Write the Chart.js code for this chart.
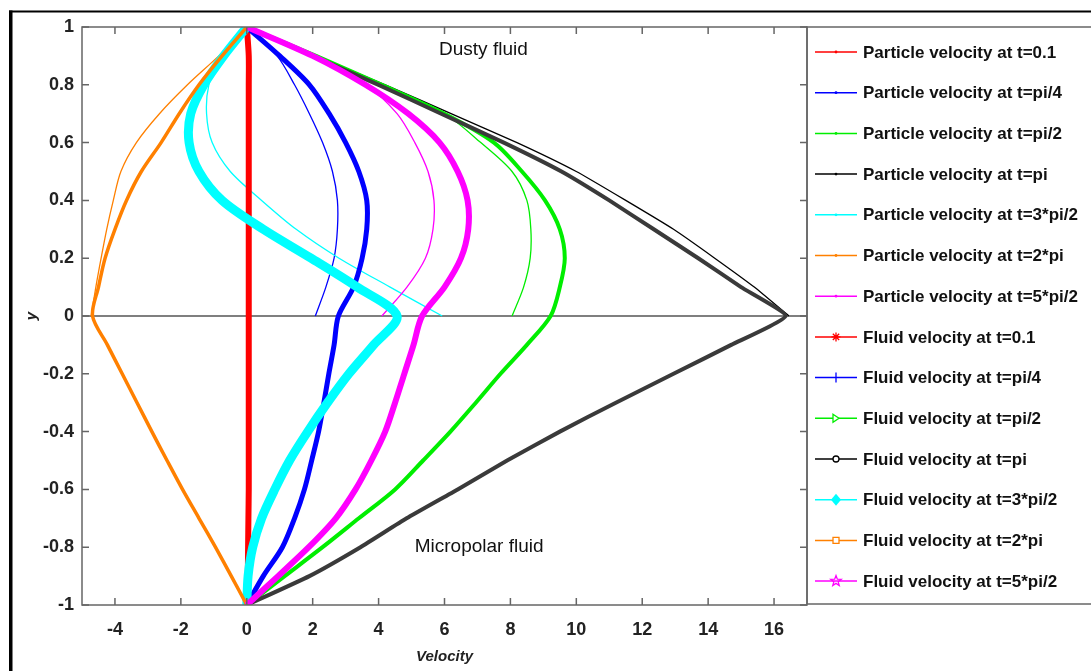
<!DOCTYPE html>
<html>
<head>
<meta charset="utf-8">
<script src="https://cdn.jsdelivr.net/npm/chart.js@4.4.1/dist/chart.umd.min.js"></script>
<style>
body { margin: 0; background: #fff; }
#wrap { position: relative; width: 1091px; height: 671px; }
</style>
</head>
<body>
<div id="wrap"><canvas id="chart" width="1091" height="671"></canvas></div>
<script>
// y levels where the profiles were read
let yUpper = [1, 0.9, 0.8, 0.7, 0.6, 0.5, 0.4, 0.3, 0.2, 0.1, 0];
let yFull = [1, 0.9, 0.8, 0.7, 0.6, 0.5, 0.4, 0.3, 0.2, 0.1, 0,
             -0.1, -0.2, -0.3, -0.4, -0.5, -0.6, -0.7, -0.8, -0.9, -1];

// particle velocity (upper half only)
let partT01   = [0, 0.05, 0.05, 0.05, 0.05, 0.05, 0.05, 0.05, 0.05, 0.05, 0.05];
let partPi4   = [0, 0.92, 1.45, 1.9, 2.3, 2.6, 2.75, 2.75, 2.65, 2.4, 2.08];
let partPi2   = [0, 2.0, 4.0, 6.0, 7.1, 8.05, 8.5, 8.62, 8.6, 8.4, 8.05];
let partPi    = [0, 2.1, 4.2, 6.2, 8.2, 10.0, 11.5, 12.95, 14.2, 15.4, 16.45];
let part3Pi2  = [0, -0.8, -1.15, -1.22, -1.05, -0.5, 0.45, 1.5, 2.8, 4.35, 5.93];
let part2Pi   = [0, -0.85, -1.8, -2.65, -3.35, -3.82, -4.05, -4.25, -4.42, -4.58, -4.72];
let part5Pi2  = [0, 1.9, 3.6, 4.56, 5.1, 5.5, 5.68, 5.65, 5.42, 4.86, 4.1];

// fluid velocity (whole channel)
let fluidT01  = [0, 0.06, 0.06, 0.06, 0.06, 0.06, 0.06, 0.06, 0.06, 0.06, 0.06,
                 0.06, 0.06, 0.06, 0.06, 0.06, 0.06, 0.05, 0.04, 0.03, 0];
let fluidPi4  = [0, 1.0, 1.9, 2.5, 3.0, 3.4, 3.64, 3.64, 3.5, 3.24, 2.78,
                 2.65, 2.49, 2.34, 2.18, 1.97, 1.75, 1.45, 1.08, 0.5, 0];
let fluidPi2  = [0, 2.1, 4.1, 6.0, 7.5, 8.35, 9.05, 9.5, 9.65, 9.5, 9.22,
                 8.5, 7.7, 6.95, 6.18, 5.35, 4.5, 3.4, 2.3, 1.15, 0];
let fluidPi   = [0, 2.0, 4.0, 5.9, 7.8, 9.55, 11.0, 12.35, 13.7, 15.0, 16.35,
                 14.7, 12.95, 11.2, 9.5, 7.9, 6.4, 4.85, 3.45, 1.9, 0];
let fluid3Pi2 = [0, -0.7, -1.3, -1.7, -1.75, -1.45, -0.75, 0.5, 1.95, 3.35, 4.56,
                 3.85, 3.1, 2.45, 1.85, 1.3, 0.85, 0.45, 0.18, 0.04, 0];
let fluid2Pi  = [0, -0.75, -1.45, -2.05, -2.6, -3.2, -3.65, -4.0, -4.3, -4.5, -4.68,
                 -4.23, -3.78, -3.33, -2.88, -2.42, -1.95, -1.45, -0.95, -0.47, 0];
let fluid5Pi2 = [0, 2.0, 3.6, 4.9, 5.85, 6.4, 6.7, 6.72, 6.5, 6.0, 5.32,
                 5.06, 4.78, 4.5, 4.2, 3.78, 3.3, 2.7, 1.88, 0.95, 0];

let xTicks = [-4, -2, 0, 2, 4, 6, 8, 10, 12, 14, 16];
let yTicks = [-1, -0.8, -0.6, -0.4, -0.2, 0, 0.2, 0.4, 0.6, 0.8, 1];

let noteText = ["Dusty fluid", "Micropolar fluid"];
let noteX = [7.18, 7.05];
let noteY = [0.92, -0.8];

let labels = [
  "Particle velocity at t=0.1", "Particle velocity at t=pi/4", "Particle velocity at t=pi/2",
  "Particle velocity at t=pi", "Particle velocity at t=3*pi/2", "Particle velocity at t=2*pi",
  "Particle velocity at t=5*pi/2",
  "Fluid velocity at t=0.1", "Fluid velocity at t=pi/4", "Fluid velocity at t=pi/2",
  "Fluid velocity at t=pi", "Fluid velocity at t=3*pi/2", "Fluid velocity at t=2*pi",
  "Fluid velocity at t=5*pi/2"
];
let colors = ["#ff0000", "#0000ff", "#00ee00", "#000000", "#00ffff", "#ff8000", "#ff00ff",
              "#ff0000", "#0000ff", "#00ee00", "#000000", "#00ffff", "#ff8000", "#ff00ff"];
let markers = ["dot", "dot", "dot", "dot", "dot", "dot", "dot",
               "asterisk", "plus", "triRight", "circle", "diamond", "square", "star"];

let series = [partT01, partPi4, partPi2, partPi, part3Pi2, part2Pi, part5Pi2,
              fluidT01, fluidPi4, fluidPi2, fluidPi, fluid3Pi2, fluid2Pi, fluid5Pi2];
// thickness of the dense marker bands of the fluid curves
let widths = [1.3, 1.3, 1.3, 1.3, 1.3, 1.3, 1.3, 6, 5, 4, 4, 9, 3.5, 6];

let datasets = series.map((xs, i) => {
  let ys = xs.length === yUpper.length ? yUpper : yFull;
  return {
    label: labels[i],
    data: xs.map((x, k) => ({x: x, y: ys[k]})),
    showLine: true,
    borderColor: i === 10 ? "#3a3a3a" : colors[i],
    backgroundColor: colors[i],
    borderWidth: widths[i],
    pointRadius: 0,
    tension: i === 10 || i === 3 ? 0.15 : 0.3,
    order: -i
  };
});

function drawMarker(ctx, type, x, y, color) {
  ctx.save();
  ctx.strokeStyle = color;
  ctx.fillStyle = color;
  ctx.lineWidth = 1.3;
  ctx.beginPath();
  if (type === "dot") {
    ctx.arc(x, y, 1.4, 0, Math.PI * 2);
    ctx.fill();
  } else if (type === "asterisk") {
    for (let a = 0; a < 4; a++) {
      let t = a * Math.PI / 4;
      ctx.moveTo(x - 4.5 * Math.cos(t), y - 4.5 * Math.sin(t));
      ctx.lineTo(x + 4.5 * Math.cos(t), y + 4.5 * Math.sin(t));
    }
    ctx.stroke();
  } else if (type === "plus") {
    ctx.moveTo(x, y - 5); ctx.lineTo(x, y + 5);
    ctx.stroke();
  } else if (type === "triRight") {
    ctx.moveTo(x - 3, y - 4); ctx.lineTo(x + 3, y); ctx.lineTo(x - 3, y + 4); ctx.closePath();
    ctx.fillStyle = "#fff"; ctx.fill(); ctx.stroke();
  } else if (type === "circle") {
    ctx.arc(x, y, 3, 0, Math.PI * 2);
    ctx.fillStyle = "#fff"; ctx.fill(); ctx.stroke();
  } else if (type === "diamond") {
    ctx.moveTo(x, y - 6); ctx.lineTo(x + 5, y); ctx.lineTo(x, y + 6); ctx.lineTo(x - 5, y); ctx.closePath();
    ctx.fill();
  } else if (type === "square") {
    ctx.rect(x - 3, y - 3, 6, 6);
    ctx.fillStyle = "#fff"; ctx.fill(); ctx.stroke();
  } else if (type === "star") {
    for (let a = 0; a < 10; a++) {
      let r = a % 2 === 0 ? 5.5 : 2.3;
      let t = -Math.PI / 2 + a * Math.PI / 5;
      if (a === 0) ctx.moveTo(x + r * Math.cos(t), y + r * Math.sin(t));
      else ctx.lineTo(x + r * Math.cos(t), y + r * Math.sin(t));
    }
    ctx.closePath();
    ctx.stroke();
  }
  ctx.restore();
}

const framePlugin = {
  id: "frame",
  beforeDraw(chart) {
    let ctx = chart.ctx;
    ctx.save();
    ctx.fillStyle = "#fff";
    ctx.fillRect(0, 0, chart.width, chart.height);
    ctx.fillStyle = "#000";
    ctx.fillRect(9, 10.5, chart.width - 9, 2);
    ctx.fillRect(9, 10.5, 3.5, chart.height);
    ctx.restore();
  },
  beforeDatasetsDraw(chart) {
    let ctx = chart.ctx, a = chart.chartArea;
    let y0 = chart.scales.y.getPixelForValue(0);
    ctx.save();
    ctx.strokeStyle = "#555";
    ctx.lineWidth = 1.5;
    ctx.beginPath();
    ctx.moveTo(a.left, y0); ctx.lineTo(a.right, y0);
    ctx.stroke();
    ctx.restore();
  },
  afterDatasetsDraw(chart) {
    let ctx = chart.ctx, a = chart.chartArea;
    let xs = chart.scales.x, ys = chart.scales.y;
    ctx.save();
    ctx.strokeStyle = "#666";
    ctx.lineWidth = 1.5;
    ctx.strokeRect(a.left, a.top, a.right - a.left, a.bottom - a.top);
    ctx.beginPath();
    xTicks.forEach(v => {
      let p = xs.getPixelForValue(v);
      ctx.moveTo(p, a.bottom); ctx.lineTo(p, a.bottom - 7);
      ctx.moveTo(p, a.top); ctx.lineTo(p, a.top + 7);
    });
    yTicks.forEach(v => {
      let p = ys.getPixelForValue(v);
      ctx.moveTo(a.left, p); ctx.lineTo(a.left + 7, p);
      ctx.moveTo(a.right, p); ctx.lineTo(a.right - 7, p);
    });
    ctx.stroke();

    // text annotations
    ctx.fillStyle = "#111";
    ctx.font = "19px 'Liberation Sans', Arial, sans-serif";
    ctx.textAlign = "center";
    ctx.textBaseline = "middle";
    noteText.forEach((t, i) => {
      ctx.fillText(t, xs.getPixelForValue(noteX[i]), ys.getPixelForValue(noteY[i]));
    });
    ctx.restore();
  },
  afterDraw(chart) {
    // legend box
    let ctx = chart.ctx, a = chart.chartArea;
    ctx.save();
    ctx.strokeStyle = "#666";
    ctx.lineWidth = 1.5;
    ctx.strokeRect(a.right, a.top, chart.width + 10 - a.right, a.bottom - 1 - a.top);
    ctx.font = "bold 17px 'Liberation Sans', Arial, sans-serif";
    ctx.textBaseline = "middle";
    ctx.textAlign = "left";
    labels.forEach((t, i) => {
      let y = 52 + i * 40.7;
      ctx.strokeStyle = colors[i];
      ctx.lineWidth = 1.5;
      ctx.beginPath();
      ctx.moveTo(815, y); ctx.lineTo(857, y);
      ctx.stroke();
      drawMarker(ctx, markers[i], 836, y, colors[i]);
      ctx.fillStyle = "#111";
      ctx.fillText(t, 863, y + 1);
    });
    ctx.restore();
  }
};

new Chart(document.getElementById("chart"), {
  type: "scatter",
  data: { datasets: datasets },
  options: {
    responsive: false,
    animation: false,
    layout: { padding: { left: 12, top: 27, right: 284, bottom: 0 } },
    plugins: { legend: { display: false }, tooltip: { enabled: false } },
    scales: {
      x: {
        min: -5, max: 17,
        grid: { display: false, drawTicks: false },
        border: { display: false },
        afterBuildTicks: s => { s.ticks = xTicks.map(v => ({value: v})); },
        afterFit: s => { s.height = 66; },
        ticks: {
          padding: 14,
          color: "#222",
          font: { family: "'Liberation Sans', Arial, sans-serif", size: 18, weight: "bold" },
          callback: v => String(v)
        },
        title: {
          display: true, text: "Velocity", color: "#222",
          padding: { top: 0, bottom: 5 },
          font: { family: "'Liberation Sans', Arial, sans-serif", size: 15, weight: "bold", style: "italic" }
        }
      },
      y: {
        min: -1, max: 1,
        grid: { display: false, drawTicks: false },
        border: { display: false },
        afterBuildTicks: s => { s.ticks = yTicks.map(v => ({value: v})); },
        afterFit: s => { s.width = 70; },
        ticks: {
          padding: 8,
          color: "#222",
          font: { family: "'Liberation Sans', Arial, sans-serif", size: 18, weight: "bold" },
          callback: v => String(Number(v.toFixed(1)))
        },
        title: {
          display: true, text: "y", color: "#222",
          padding: { top: 11, bottom: 0 },
          font: { family: "'Liberation Sans', Arial, sans-serif", size: 15, weight: "bold", style: "italic" }
        }
      }
    }
  },
  plugins: [framePlugin]
});
</script>
</body>
</html>
